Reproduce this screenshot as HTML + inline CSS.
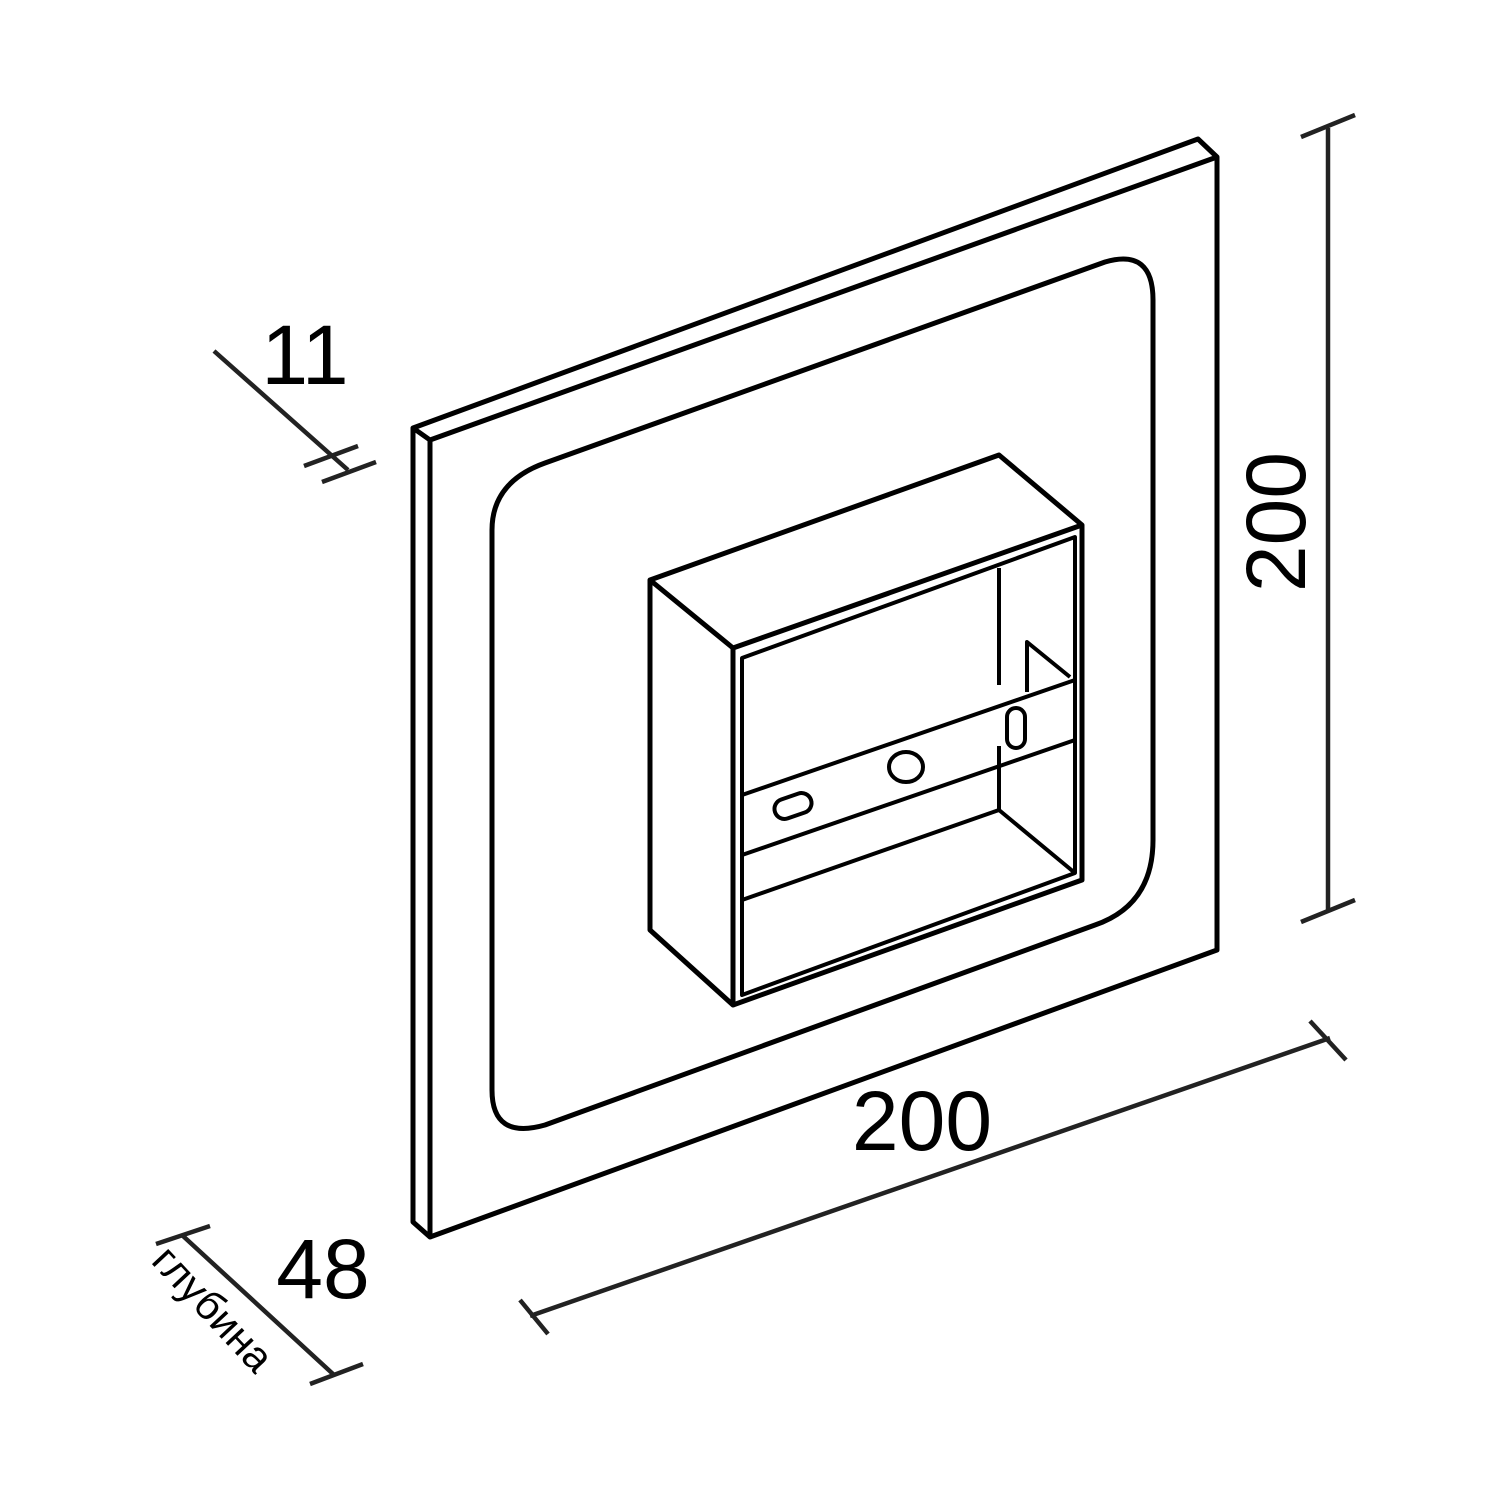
<!DOCTYPE html>
<html><head><style>html,body{margin:0;padding:0;background:#fff}svg{display:block}</style></head>
<body>
<svg width="1500" height="1500" viewBox="0 0 1500 1500" xmlns="http://www.w3.org/2000/svg">
<g fill="none" stroke="#000" stroke-width="5" stroke-linejoin="round">
<!-- plate -->
<path d="M413,428 L1198,139 L1217,157 L430,440 Z"/>
<path d="M413,428 L413,1222 L430,1237 L430,440"/>
<path d="M430,1237 L1217,950 L1217,157"/>
<!-- rounded inner -->
<path d="M545,463 L1105,262 Q1153,248 1153,300 L1153,840 Q1153,905 1095,925 L545,1125 Q492,1140 492,1090 L492,530 Q492,482 545,463 Z"/>
<!-- box -->
<path d="M650,580 L999,455 L1082,525 L733,648 Z"/>
<path d="M650,580 L650,930 L733,1005 L733,648"/>
<path d="M733,1005 L1082,880 L1082,525"/>
<path d="M742,658 L1075,537 L1075,873 L742,995 Z" stroke-width="4"/>
<path d="M999,568 L999,685 M999,746 L999,810 L1075,873" stroke-width="4"/>
<path d="M742,900 L999,810" stroke-width="4"/>
<path d="M742,795 L1075,680 M742,855 L1075,740" stroke-width="4"/>
<path d="M1027,692 L1027,642 L1070,677" stroke-width="4"/>
<rect x="774" y="796" width="38" height="20" rx="10" transform="rotate(-19 793 806)" stroke-width="4"/>
<ellipse cx="906" cy="767" rx="17" ry="15" stroke-width="4"/>
<rect x="1007" y="708" width="18" height="40" rx="9" stroke-width="4"/>
</g>
<g fill="none" stroke="#222" stroke-width="4.5">
<path d="M214,351 L348,470 M304,466 L358,446 M322,482 L376,462"/>
<path d="M1328,128 L1328,912 M1301,137 L1355,115 M1301,922 L1355,900"/>
<path d="M530,1316 L1330,1038 M520,1300 L548,1334 M1310,1021 L1346,1060"/>
<path d="M183,1236 L333,1374 M156,1244 L210,1226 M310,1384 L363,1364"/>
</g>
<g font-family="Liberation Sans, sans-serif" fill="#000">
<text x="305" y="384" font-size="84" text-anchor="middle">11</text>
<text x="922" y="1150" font-size="84" text-anchor="middle">200</text>
<text x="323" y="1298" font-size="84" text-anchor="middle">48</text>
<text transform="translate(1305,522) rotate(-90)" font-size="84" text-anchor="middle">200</text>
<text transform="translate(150,1262) rotate(47)" font-size="42">глубина</text>
</g>
</svg>
</body></html>
